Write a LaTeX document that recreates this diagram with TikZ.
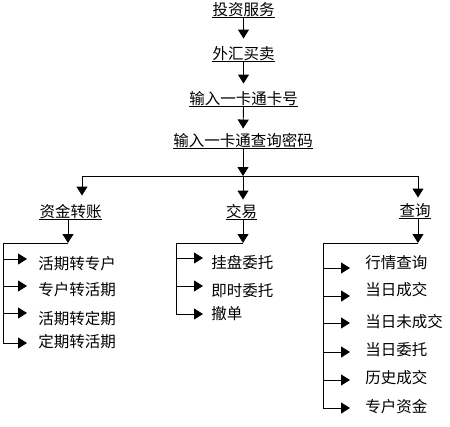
\documentclass[tikz,border=0pt]{standalone}
\usepackage{fontspec}
\setmainfont{Noto Sans CJK SC}
\usetikzlibrary{arrows.meta}
\begin{document}
\begin{tikzpicture}[x=1pt,y=-1pt,
  line width=0.9pt,
  lbl/.style={inner xsep=0pt, inner ysep=0.5pt, text height=11.5pt, text depth=1.5pt,
    font=\fontsize{15.5}{15.5}\selectfont},
  ul/.style={lbl, append after command={(\tikzlastnode.south west) edge[line width=0.8pt] (\tikzlastnode.south east)}},
  item/.style={lbl, anchor=west},
  arr/.style={-{Triangle[length=9pt,width=11pt]}},
  ln/.style={-}]
\useasboundingbox (0,0) rectangle (450,426);

% main column
\node[ul] (t1) at (243.5,10) {投资服务};
\node[ul] (t2) at (243.5,54) {外汇买卖};
\node[ul] (t3) at (243.5,99) {输入一卡通卡号};
\node[ul] (t4) at (243,141) {输入一卡通查询密码};

\draw[arr,shorten >=8pt] (t1.south) -- (t2.north);
\draw[arr,shorten >=8pt] (t2.south) -- (t3.north);
\draw[arr,shorten >=5pt] (t3.south) -- (t4.north);

\coordinate (j0) at (243,176);
\coordinate (jl) at (82,176);
\coordinate (jr) at (418,176);
\draw[arr] (t4.south) -- (j0);
\draw[ln] (jl) -- (jr);

% branches
\node[ul] (a) at (70.5,212) {资金转账};
\node[ul] (b) at (241.5,212) {交易};
\node[ul] (c) at (415,211) {查询};

\draw[arr,shorten >=9pt] (jl) -- (jl |- a.north);
\draw[arr,shorten >=5pt] (j0) -- (j0 |- b.north);
\draw[arr,shorten >=6pt] (jr) -- (jr |- c.north);

% left list
\coordinate (la) at (68,243);
\coordinate (lt) at (3,243);
\draw[arr] (la |- a.south) -- (la);
\coordinate (a1) at (27,259);
\coordinate (a2) at (27,286);
\coordinate (a3) at (27,313);
\coordinate (a4) at (27,343);
\draw[ln] (la) -- (lt) -- (lt |- a4);
\foreach \k in {a1,a2,a3,a4} \draw[arr] (lt |- \k) -- (\k);
\node[item] (ia1) at (38,264) {活期转专户};
\node[item] (ia2) at (38,290) {专户转活期};
\node[item] (ia3) at (38,319) {活期转定期};
\node[item] (ia4) at (38,342) {定期转活期};

% middle list
\coordinate (mb) at (243,243);
\coordinate (mt) at (176,243);
\draw[arr] (b.south -| mb) -- (mb);
\coordinate (b1) at (203,258);
\coordinate (b2) at (203,286);
\coordinate (b3) at (203,314);
\draw[ln] (mb) -- (mt) -- (mt |- b3);
\foreach \k in {b1,b2,b3} \draw[arr] (mt |- \k) -- (\k);
\node[item] (ib1) at (211,263) {挂盘委托};
\node[item] (ib2) at (211,291) {即时委托};
\node[item] (ib3) at (211,314) {撤单};

% right list
\coordinate (rc) at (418,243);
\coordinate (rt) at (323,243);
\draw[arr] (c.south -| rc) -- (rc);
\coordinate (c1) at (350,268);
\coordinate (c2) at (350,296);
\coordinate (c3) at (350,323);
\coordinate (c4) at (350,352);
\coordinate (c5) at (350,380);
\coordinate (c6) at (350,408);
\draw[ln] (rc) -- (rt) -- (rt |- c6);
\foreach \k in {c1,c2,c3,c4,c5,c6} \draw[arr] (rt |- \k) -- (\k);
\node[item] (ic1) at (365,263) {行情查询};
\node[item] (ic2) at (365,290) {当日成交};
\node[item] (ic3) at (365,322) {当日未成交};
\node[item] (ic4) at (365,350) {当日委托};
\node[item] (ic5) at (365,378) {历史成交};
\node[item] (ic6) at (365,407) {专户资金};
\end{tikzpicture}
\end{document}
